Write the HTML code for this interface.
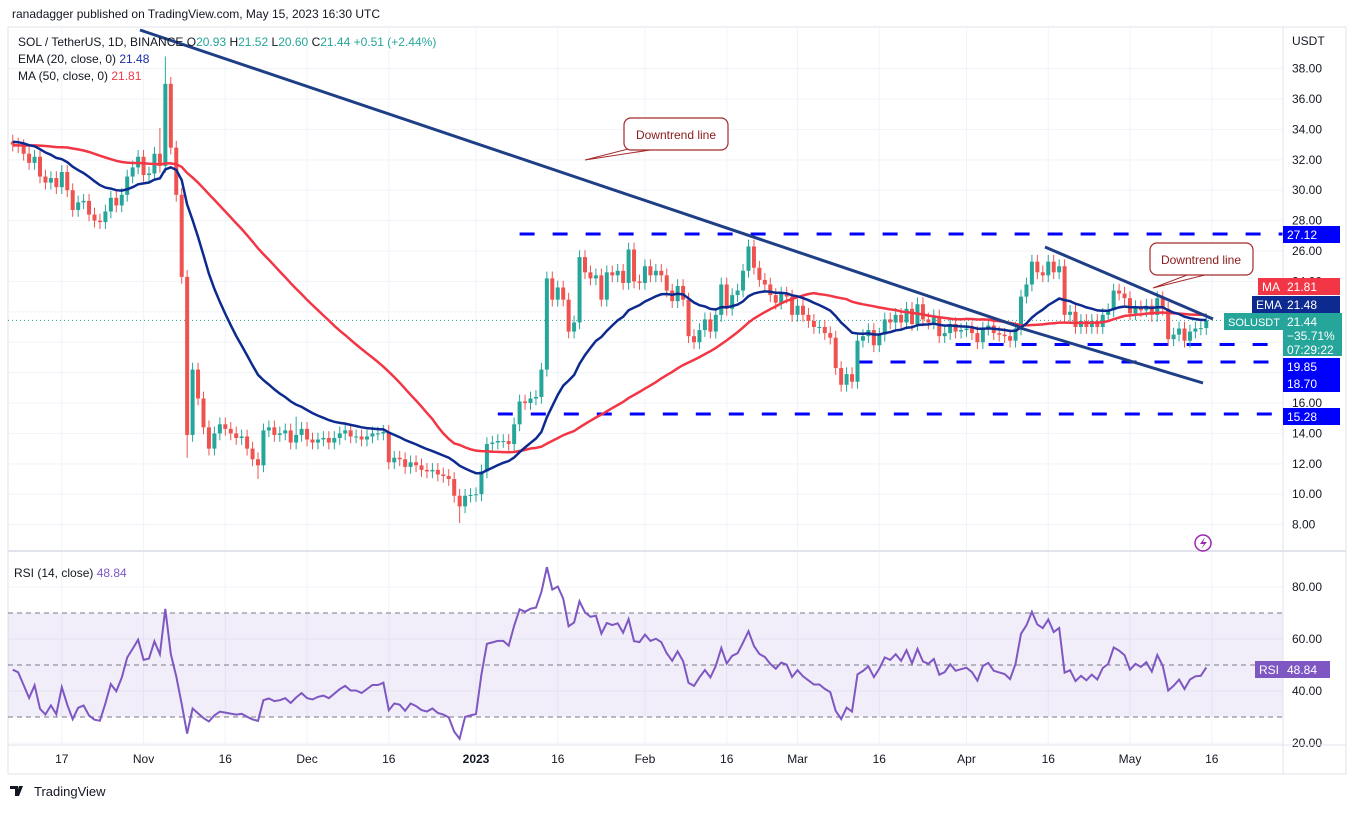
<!DOCTYPE html>
<html><head><meta charset="utf-8">
<style>
html,body{margin:0;padding:0;background:#fff;}
body{width:1357px;height:809px;overflow:hidden;font-family:"Liberation Sans",sans-serif;}
svg text{font-family:"Liberation Sans",sans-serif;}
</style></head>
<body>
<svg id="chart" width="1357" height="809" xmlns="http://www.w3.org/2000/svg">
  <rect x="0" y="0" width="1357" height="809" fill="#fff"/>
  <text x="12" y="18" font-size="12" fill="#131722">ranadagger published on TradingView.com, May 15, 2023 16:30 UTC</text>
  <rect x="8" y="27" width="1338" height="747" fill="#fff" stroke="#e0e3eb" stroke-width="1"/>
  <g id="grid"></g>
  <rect x="8" y="613" width="1275" height="104" fill="#7e57c2" fill-opacity="0.1"/>
  <g id="levels"></g>
  <g id="candles"></g>
  <g id="lines"></g>
  <g id="trend"></g>
  <g id="rsi"></g>
  <g id="axes"></g>
  <line x1="8" y1="551" x2="1346" y2="551" stroke="#e0e3eb" stroke-width="2"/>
  <line x1="1283" y1="27" x2="1283" y2="774" stroke="#e0e3eb"/>
  <line x1="8" y1="745" x2="1346" y2="745" stroke="#e0e3eb"/>

  <text x="18" y="46" font-size="12" fill="#131722">SOL / TetherUS, 1D, BINANCE <tspan fill="#131722">O</tspan><tspan fill="#26a69a">20.93</tspan> <tspan>H</tspan><tspan fill="#26a69a">21.52</tspan> <tspan>L</tspan><tspan fill="#26a69a">20.60</tspan> <tspan>C</tspan><tspan fill="#26a69a">21.44 +0.51 (+2.44%)</tspan></text>
  <text x="18" y="63" font-size="12" fill="#131722">EMA (20, close, 0) <tspan fill="#1a2ea8">21.48</tspan></text>
  <text x="18" y="80" font-size="12" fill="#131722">MA (50, close, 0) <tspan fill="#f23645">21.81</tspan></text>
  <text x="14" y="577" font-size="12" fill="#131722">RSI (14, close) <tspan fill="#7e57c2">48.84</tspan></text>
  <text x="1292" y="45" font-size="12" fill="#131722">USDT</text>

  <g>
    <path d="M585,160 L640,146 L650,150 Z" fill="#fff" stroke="#a52a2a" stroke-width="1"/>
    <rect x="624" y="118" width="104" height="32" rx="7" fill="#fff" stroke="#a52a2a" stroke-width="1.2"/>
    <text x="676" y="139" font-size="12" fill="#8b1a1a" text-anchor="middle">Downtrend line</text>
  </g>
  <g>
    <path d="M1153,288 L1195,272 L1205,275 Z" fill="#fff" stroke="#a52a2a" stroke-width="1"/>
    <rect x="1150" y="243" width="103" height="32" rx="7" fill="#fff" stroke="#a52a2a" stroke-width="1.2"/>
    <text x="1201" y="264" font-size="12" fill="#8b1a1a" text-anchor="middle">Downtrend line</text>
  </g>
  <g>
    <circle cx="1203" cy="543" r="8" fill="none" stroke="#9c27b0" stroke-width="1.5"/>
    <path d="M1205,537 L1200,544 L1204,544 L1201,549 L1207,542 L1203,542 Z" fill="#9c27b0"/>
  </g>

  <g id="labels"></g>

  <g>
    <path d="M10,786 h8 v10 h-3 v-7 h-5 Z M19,786 h4 l-4,10 h-3 Z" fill="#131722"/>
    <circle cx="20" cy="788" r="1.6" fill="#131722"/>
    <text x="34" y="796" font-size="13" fill="#131722">TradingView</text>
  </g>
</svg>
<script>
const startDay = -85; // Oct 8 2022, days relative to Jan 1 2023
const firstOpen = 33.2;
// closes before the visible window (seed for EMA / MA / RSI)
const priorCloses = [
33.5,33.0,32.6,32.1,31.8,31.5,31.9,32.4,32.0,31.6,31.2,31.7,32.3,33.0,33.4,33.8,34.1,34.6,35.0,34.3,
33.6,33.0,32.8,32.2,31.9,32.5,33.1,33.6,33.3,32.9,32.6,32.9,33.4,33.8,33.2,32.7,32.4,32.8,33.3,33.7,
33.4,33.0,32.8,33.1,33.5,33.8,33.4,33.1,33.3,33.2
];
const closes = [
33.0,32.9,32.4,31.8,32.2,30.9,30.5, 30.8,30.2,31.2,30.0,28.7,29.2,29.3, 28.4,28.0,27.9,28.6,29.5,29.0,29.7, 30.9,31.5,32.2,
31.0,31.1,32.4,31.6,37.0,32.8,29.7,24.3,13.9,18.2,16.3,14.4,13.0,14.0,14.6,14.3,14.0,13.7,13.8,13.0,12.3,11.9,14.2,14.4,13.9,14.0,14.2,13.4,13.9,14.3,
13.6,13.4,13.6,13.7,13.4,13.7,14.0,14.2,13.8,13.8,13.6,13.8,14.0,14.0,14.1,12.1,12.4,12.3,11.8,12.1,11.9,11.6,11.5,11.6,11.3,11.2,11.0,9.9,9.2,9.9,9.95,
10.0,11.5,13.3,13.4,13.5,13.5,13.3,14.6,16.1,16.0,16.3,16.4,18.2,24.2,22.8,23.6,22.8,20.7,21.3,25.6,24.6,24.2,24.4,22.8,24.6,24.4,24.7,23.9,26.1,24.0,23.9,
25.0,24.4,24.7,24.4,23.4,22.7,23.7,22.8,20.4,20.0,20.8,21.5,20.7,21.8,23.8,22.2,23.1,23.4,24.7,26.3,24.9,24.1,23.8,23.1,22.6,23.2,23.0,21.8,
22.4,21.8,21.4,21.0,21.0,20.6,20.3,18.3,17.2,17.9,17.4,20.1,20.4,20.8,19.8,20.5,21.5,21.3,21.8,21.3,22.2,21.2,22.5,21.5,21.3,21.7,20.4,20.6,21.2,20.7,20.8,
20.9,20.6,20.0,20.9,21.1,20.6,20.5,20.4,20.1,20.9,23.0,23.8,25.3,24.6,24.4,25.3,24.6,25.0,21.8,22.0,21.0,21.4,21.0,21.4,21.0,21.8,22.1,23.4,23.2,22.9,
21.9,22.3,22.1,22.4,21.8,22.9,22.2,20.2,20.5,20.9,20.1,20.7,20.9,20.93,21.44
];
const highOverrides = {28:38.8, 27:34.1, 52:15.1};
const lowOverrides = {32:12.4, 82:8.1, 45:11.0};
const priceTicks = [38,36,34,32,30,28,26,24,22,20,18,16,14,12,10,8];
const rsiTicks = [80,60,40,20];
const timeLabels = ["17","Nov","16","Dec","16","2023","16","Feb","16","Mar","16","Apr","16","May","16"];
const timeLabelDays = [-76,-61,-46,-31,-16,0,15,31,46,59,74,90,105,120,135];
const levelValues = [27.12,19.85,18.70,15.28];
const levelStartDays = [8,88,70,4];

const NS="http://www.w3.org/2000/svg";
function el(tag,attrs,parent){const e=document.createElementNS(NS,tag);for(const k in attrs)e.setAttribute(k,attrs[k]);parent.appendChild(e);return e;}
const xDay=d=>476+d*5.45;
const xIdx=i=>xDay(startDay+i);
const yP=p=>234+(27.12-p)*15.2;
const yR=v=>743-(v-20)*2.6;

const grid=document.getElementById('grid');
priceTicks.forEach(p=>{const l=el('line',{x1:8,x2:1283,y1:yP(p),y2:yP(p),stroke:'#f0f3fa'},grid);});
timeLabelDays.forEach(d=>{const l=el('line',{x1:xDay(d),x2:xDay(d),y1:27,y2:745,stroke:'#f0f3fa'},grid);});
rsiTicks.forEach(v=>{const l=el('line',{x1:8,x2:1283,y1:yR(v),y2:yR(v),stroke:'#f0f3fa'},grid);});

const lv=document.getElementById('levels');
levelValues.forEach((v,k)=>{const l=el('line',{x1:xDay(levelStartDays[k]),x2:1283,y1:yP(v),y2:yP(v),stroke:'#0000ff','stroke-width':3,'stroke-dasharray':'15 18'},lv);});
{const l=el('line',{x1:8,x2:1283,y1:yP(21.44),y2:yP(21.44),stroke:'#26a69a','stroke-width':1,'stroke-dasharray':'1 3'},lv);}

const cg=document.getElementById('candles');
closes.forEach((c,i)=>{
  const o=i===0?firstOpen:closes[i-1];
  const hi=highOverrides[i]!==undefined?highOverrides[i]:Math.max(o,c)+0.45;
  const lo=lowOverrides[i]!==undefined?lowOverrides[i]:Math.min(o,c)-0.45;
  const col=c>=o?'#26a69a':'#ef5350';
  const x=xIdx(i);
  const g=el('g',{},cg);
  
  
  el('line',{x1:x,x2:x,y1:yP(hi),y2:yP(lo),stroke:col,'stroke-width':1},g);
  const yt=yP(Math.max(o,c)),yb=yP(Math.min(o,c));
  el('rect',{x:x-2,y:yt,width:4,height:Math.max(1,yb-yt),fill:col},g);
});

// indicators computed over prior + visible closes
const all=priorCloses.concat(closes);
const off=priorCloses.length;
const lg=document.getElementById('lines');
let emaAll=[],e=all[0];const k=2/21;
all.forEach((c,i)=>{e=i===0?c:c*k+e*(1-k);emaAll.push(e);});
let maAll=[];all.forEach((c,i)=>{const s=all.slice(Math.max(0,i-49),i+1);maAll.push(s.reduce((a,b)=>a+b,0)/s.length);});
const ema=emaAll.slice(off), ma=maAll.slice(off);
function pathOf(arr,fy){return arr.map((v,i)=>(i?'L':'M')+xIdx(i).toFixed(1)+','+fy(v).toFixed(1)).join(' ');}
{const p=el('path',{d:pathOf(ma,yP),fill:'none',stroke:'#f23645','stroke-width':2.5},lg);}
{const p=el('path',{d:pathOf(ema,yP),fill:'none',stroke:'#0d2a8f','stroke-width':2.5},lg);}

const tg=document.getElementById('trend');
[[140,30,1020,327],[1045,247,1213,319],[1017,327,1203,383]].forEach(t=>{const l=el('line',{x1:t[0],y1:t[1],x2:t[2],y2:t[3],stroke:'#1e3f86','stroke-width':3},tg);});

const rg=document.getElementById('rsi');
[70,50,30].forEach(v=>{const l=el('line',{x1:8,x2:1283,y1:yR(v),y2:yR(v),stroke:'#787b86','stroke-width':1,'stroke-dasharray':'5 4'},rg);});
let rsiAll=[],ag=0.35,al=0.35;
all.forEach((c,i)=>{const o=i===0?c:all[i-1];const ch=c-o;const g=Math.max(ch,0),l=Math.max(-ch,0);
  ag=(ag*13+g)/14;al=(al*13+l)/14;rsiAll.push(al===0?100:100-100/(1+ag/al));});
const rsi=rsiAll.slice(off);
{const p=el('path',{d:pathOf(rsi,yR),fill:'none',stroke:'#7e57c2','stroke-width':2},rg);}

const ax=document.getElementById('axes');
priceTicks.forEach(p=>{const t=el('text',{x:1292,y:yP(p)+4,'font-size':12,fill:'#131722'},ax);t.textContent=p.toFixed(2);});
rsiTicks.forEach(v=>{const t=el('text',{x:1292,y:yR(v)+4,'font-size':12,fill:'#131722'},ax);t.textContent=v.toFixed(2);});
timeLabels.forEach((s,i)=>{const t=el('text',{x:xDay(timeLabelDays[i]),y:763,'font-size':12,fill:'#131722','text-anchor':'middle','font-weight':s==='2023'?'bold':'normal'},ax);t.textContent=s;});

const lb=document.getElementById('labels');
function box(x,y,w,h,fill,txt,name,fs){const g=el('g',{},lb);
  el('rect',{x:x,y:y,width:w,height:h,fill:fill},g);
  txt.forEach((s,j)=>{const t=el('text',{x:x+4,y:y+13+j*14,'font-size':fs||12,fill:'#fff'},g);t.textContent=s;});}
box(1283,226,57,17,'#0000ff',['27.12'],'level-label-27-12');
box(1258,278,25,17,'#f23645',['MA'],'ma-tag');
box(1283,278,57,17,'#f23645',['21.81'],'ma-value-label');
box(1252,296,31,17,'#0d2a8f',['EMA'],'ema-tag');
box(1283,296,57,17,'#0d2a8f',['21.48'],'ema-value-label');
box(1224,313,59,17,'#26a69a',['SOLUSDT'],'symbol-tag',11);
box(1283,313,59,43,'#26a69a',['21.44','\u221235.71%','07:29:22'],'last-price-label');
box(1283,358,57,17,'#0000ff',['19.85'],'level-label-19-85');
box(1283,375,57,17,'#0000ff',['18.70'],'level-label-18-70');
box(1283,408,57,17,'#0000ff',['15.28'],'level-label-15-28');
box(1255,661,28,17,'#7e57c2',['RSI'],'rsi-tag');
box(1283,661,47,17,'#7e57c2',['48.84'],'rsi-value-label');
</script>
</body></html>
